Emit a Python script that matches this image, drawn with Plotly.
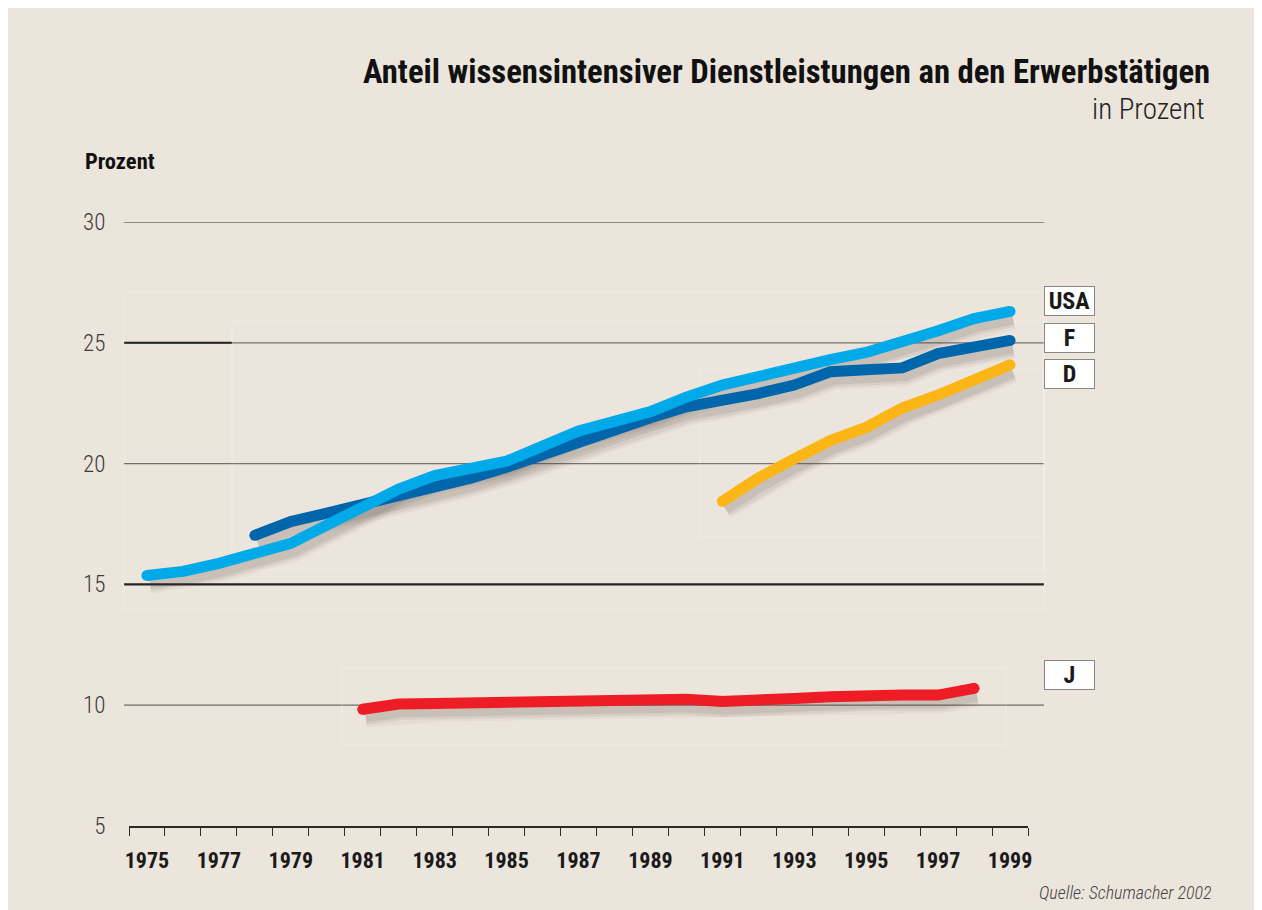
import plotly.graph_objects as go

usa_years = list(range(1975, 2000))
usa = [15.37, 15.54, 15.87, 16.29, 16.7, 17.45, 18.25, 18.95, 19.5, 19.8, 20.1,
       20.72, 21.35, 21.75, 22.15, 22.75, 23.25, 23.6, 24.0, 24.3, 24.6, 25.0,
       25.5, 26.0, 26.3]

f_years = list(range(1978, 2000))
fra = [17.03, 17.6, 17.95, 18.3, 18.6, 19.0, 19.4, 19.85, 20.38, 20.9, 21.4,
       21.9, 22.35, 22.6, 22.9, 23.25, 23.8, 23.88, 23.96, 24.55, 24.8, 25.1]

d_years = list(range(1991, 2000))
deu = [18.44, 19.4, 20.2, 20.95, 21.5, 22.3, 22.84, 23.45, 24.09]

j_years = list(range(1981, 1999))
jpn = [9.83, 10.05, 10.07, 10.1, 10.12, 10.2, 10.25, 10.25, 10.25, 10.25,
       10.15, 10.17, 10.28, 10.35, 10.42, 10.42, 10.42, 10.7]

series = [
    ("J", j_years, jpn, "#EE1C25"),
    ("D", d_years, deu, "#FBB514"),
    ("F", f_years, fra, "#0066AB"),
    ("USA", usa_years, usa, "#00AAE9"),
]
label_y = {"USA": 26.74, "F": 25.2, "D": 23.71, "J": 11.27}

y_ticks = [5, 10, 15, 20, 25, 30]
x_labels = list(range(1975, 2000, 2))

BG = "#ECE5DB"
NARROW = "Roboto Condensed, Liberation Sans Narrow, Roboto, sans-serif"


def cond(s):
    return f"<span style='font-stretch:condensed'>{s}</span>"


fig = go.Figure()

# shadows
for name, xs, ys, col in series:
    for w, a in [(22, 0.05), (17, 0.08), (12, 0.10)]:
        fig.add_trace(go.Scatter(
            x=[x + 0.08 for x in xs], y=[y - 0.3 for y in ys], mode="lines",
            line=dict(color=f"rgba(70,60,50,{a})", width=w),
            hoverinfo="skip", showlegend=False))

# lines
for name, xs, ys, col in series:
    fig.add_trace(go.Scatter(
        x=xs, y=ys, mode="lines", name=name,
        line=dict(color=col, width=11),
        showlegend=False))
    fig.add_trace(go.Scatter(
        x=[xs[0], xs[-1]], y=[ys[0], ys[-1]], mode="markers",
        marker=dict(color=col, size=11, line=dict(width=0)),
        hoverinfo="skip", showlegend=False))

# gridlines extending past the axis
x0p = (124 - 129) / 899
x1p = (1044 - 129) / 899
for v in [10, 20, 25, 30]:
    fig.add_shape(type="line", xref="paper", yref="y", x0=x0p, x1=x1p, y0=v, y1=v,
                  line=dict(color="#6E6A66", width=1.3), layer="below")
fig.add_shape(type="line", xref="paper", yref="y", x0=x0p, x1=x1p, y0=15, y1=15,
              line=dict(color="#1E1C1B", width=2.2), layer="below")
fig.add_shape(type="line", xref="paper", yref="y", x0=x0p, x1=(232 - 129) / 899, y0=25, y1=25,
              line=dict(color="#1E1C1B", width=2), layer="below")

# faint panel edges
for (px0, py0, px1, py1) in [(124, 292, 1044, 610), (232, 322, 1044, 570), (342, 668, 1006, 745), (700, 370, 1044, 537)]:
    fig.add_shape(type="rect", xref="paper", yref="paper",
                  x0=(px0 - 129) / 899, x1=(px1 - 129) / 899,
                  y0=(826 - py1) / 604, y1=(826 - py0) / 604,
                  line=dict(color="rgba(255,255,255,0.25)", width=1),
                  fillcolor="rgba(255,255,255,0.03)", layer="below")

# label boxes
for name, _, _, _ in series:
    fig.add_annotation(x=(1069.5 - 129) / 899, xref="paper", y=label_y[name], yref="y",
                       text=cond(f"<b>{name}</b>"), showarrow=False,
                       font=dict(family=NARROW, size=24, color="#1A1A1A"),
                       bgcolor="white", bordercolor="#8A8683", borderwidth=1,
                       width=47, height=26, borderpad=1, xanchor="center", yanchor="middle")

fig.add_annotation(x=(1212 - 129) / 899, y=(826 - 72) / 604, xref="paper", yref="paper",
                   text=cond("<b>Anteil wissensintensiver Dienstleistungen an den Erwerbstätigen</b>"),
                   showarrow=False, xanchor="right", yanchor="middle",
                   font=dict(family=NARROW, size=32.7, color="#111"))
fig.add_annotation(x=(1207 - 129) / 899, y=(826 - 109) / 604, xref="paper", yref="paper",
                   text=cond("in Prozent"), showarrow=False, xanchor="right", yanchor="middle",
                   font=dict(family=NARROW, size=29, color="#222", weight=300))
fig.add_annotation(x=(83 - 129) / 899, y=(826 - 161) / 604, xref="paper", yref="paper",
                   text=cond("<b>Prozent</b>"), showarrow=False, xanchor="left", yanchor="middle",
                   font=dict(family=NARROW, size=22.5, color="#111"))
fig.add_annotation(x=(1214 - 129) / 899, y=(826 - 892) / 604, xref="paper", yref="paper",
                   text=cond("<i>Quelle: Schumacher 2002</i>"), showarrow=False,
                   xanchor="right", yanchor="middle",
                   font=dict(family=NARROW, size=18, color="#444", weight=300))

fig.update_layout(
    width=1262, height=910,
    margin=dict(l=121, r=242, t=214, b=92),
    paper_bgcolor=BG, plot_bgcolor=BG,
    xaxis=dict(range=[1974.5, 1999.5], tickvals=x_labels, ticktext=[cond(str(v)) for v in x_labels],
               showgrid=False, zeroline=False, showline=True, linecolor="#2A2A2A", linewidth=1.5,
               ticks="outside", ticklen=14, tickcolor="rgba(0,0,0,0)",
               tickfont=dict(family=NARROW, size=22, color="#1A1A1A", weight="bold"),
               minor=dict(tick0=1974.5, dtick=1, ticks="outside", ticklen=8,
                          tickcolor="#2A2A2A", tickwidth=1, showgrid=False),
               fixedrange=True),
    yaxis=dict(range=[5, 30], tickvals=y_ticks, ticktext=[cond(str(v)) for v in y_ticks],
               showgrid=False, zeroline=False, showline=False,
               ticks="outside", ticklen=18, tickcolor="rgba(0,0,0,0)",
               tickfont=dict(family=NARROW, size=23, color="#3A3A3A", weight=300),
               fixedrange=True),
)

fig.write_html("out.html")
